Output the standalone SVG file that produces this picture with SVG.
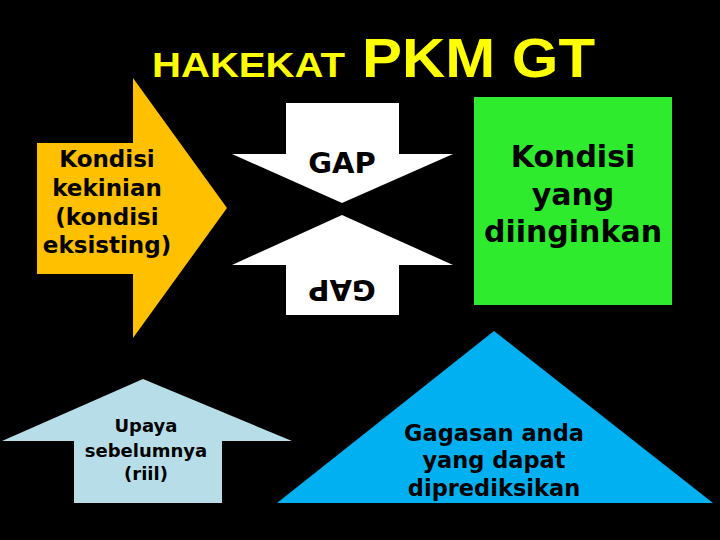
<svg xmlns="http://www.w3.org/2000/svg" width="720" height="540" viewBox="0 0 720 540">
<style>
.t{font-family:"DejaVu Sans",Verdana,sans-serif;font-weight:bold;fill:#000;text-anchor:middle}
.title{font-family:"Liberation Sans",Arial,sans-serif;font-weight:bold;fill:#FFFF00}
</style>
<rect x="0" y="0" width="720" height="540" fill="#000"/>
<g id="title">
<text class="title" x="152" y="77" font-size="35" textLength="193" lengthAdjust="spacingAndGlyphs">HAKEKAT</text>
<text class="title" x="362" y="77" font-size="56" textLength="233" lengthAdjust="spacingAndGlyphs">PKM GT</text>
</g>
<g id="kondisi-kekinian">
<polygon points="37,143 133,143 133,78 227,208 133,338 133,274 37,274" fill="#FFC000"/>
<text class="t" font-size="23"><tspan x="107" y="167">Kondisi</tspan><tspan x="107" y="196">kekinian</tspan><tspan x="107" y="225">(kondisi</tspan><tspan x="107" y="253">eksisting)</tspan></text>
</g>
<g id="gap-top">
<polygon points="286,103 399,103 399,154 453,154 342,203 232,154 286,154" fill="#FFF"/>
<text class="t" x="342" y="173" font-size="29">GAP</text>
</g>
<g id="gap-bottom">
<polygon points="286,315 399,315 399,265 453,265 342,215 232,265 286,265" fill="#FFF"/>
<text class="t" font-size="29" transform="translate(342,280) rotate(180)" x="0" y="0">GAP</text>
</g>
<g id="kondisi-diinginkan">
<rect x="474" y="97" width="198" height="208" fill="#2EEB2E"/>
<text class="t" font-size="30"><tspan x="573" y="167">Kondisi</tspan><tspan x="573" y="205">yang</tspan><tspan x="573" y="242">diinginkan</tspan></text>
</g>
<g id="upaya">
<polygon points="143,379 292,441 222,441 222,503 74,503 74,441 2,441" fill="#B7DEE8"/>
<text class="t" font-size="18"><tspan x="146" y="432">Upaya</tspan><tspan x="146" y="457">sebelumnya</tspan><tspan x="146" y="480">(riil)</tspan></text>
</g>
<g id="gagasan">
<polygon points="494,331 713,503 277,503" fill="#00B0F0"/>
<text class="t" font-size="22.5"><tspan x="494" y="441">Gagasan anda</tspan><tspan x="494" y="468">yang dapat</tspan><tspan x="494" y="496">diprediksikan</tspan></text>
</g>
<g id="connectors"></g>
</svg>
